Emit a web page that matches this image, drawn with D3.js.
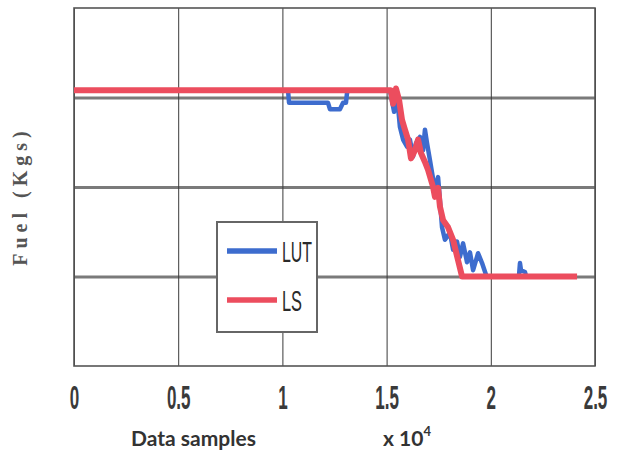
<!DOCTYPE html>
<html>
<head>
<meta charset="utf-8">
<script src="https://cdn.jsdelivr.net/npm/d3@7"></script>
<style>
  body { margin: 0; background: #fff; }
  svg { display: block; }
</style>
</head>
<body>
<svg id="chart" width="618" height="457"></svg>
<script>
// x in units of 1e4 samples, y = fuel
const xTicks = [0, 0.5, 1, 1.5, 2, 2.5];
const yGrid = [1, 2, 3];
const seriesNames = ["LUT", "LS"];

const lutX = [0, 1.027, 1.032, 1.219, 1.228, 1.276, 1.291, 1.305, 1.31, 1.316, 1.516,
  1.536, 1.55, 1.564, 1.579, 1.598, 1.612, 1.627, 1.641, 1.66, 1.675, 1.684, 1.694,
  1.708, 1.718, 1.732, 1.747, 1.756, 1.766, 1.78, 1.804, 1.819, 1.838, 1.852, 1.867,
  1.886, 1.9, 1.915, 1.939, 1.958, 1.977, 1.985, 2.135, 2.14, 2.145, 2.164, 2.17, 2.41];
const lutY = [3.08, 3.08, 2.94, 2.94, 2.87, 2.87, 2.94, 2.94, 3.05, 3.08, 3.08,
  2.84, 3.02, 2.67, 2.53, 2.45, 2.53, 2.34, 2.49, 2.56, 2.41, 2.64, 2.49,
  2.30, 2.16, 1.97, 2.11, 1.85, 1.55, 1.41, 1.49, 1.30, 1.39, 1.22, 1.37,
  1.16, 1.27, 1.07, 1.26, 1.15, 1.02, 1.0, 1.0, 1.15, 1.07, 1.05, 1.0, 1.0];

const lsX = [0, 1.521, 1.531, 1.545, 1.56, 1.574, 1.588, 1.603, 1.617, 1.636, 1.651,
  1.665, 1.684, 1.699, 1.723, 1.732, 1.747, 1.756, 1.771, 1.795, 1.819, 1.843, 1.862, 2.414];
const lsY = [3.08, 3.08, 2.93, 3.1, 2.97, 2.75, 2.64, 2.53, 2.32, 2.41, 2.53,
  2.38, 2.28, 2.19, 2.0, 1.89, 1.99, 1.78, 1.63, 1.55, 1.41, 1.18, 1.0, 1.0];

const colors = { LUT: "#3d6cce", LS: "#ec4d5e" };

const svg = d3.select("#chart");
const mLeft = 74, mRight = 595, mTop = 8, mBottom = 366;
const W = mRight - mLeft, H = mBottom - mTop;

const x = d3.scaleLinear().domain([0, 2.5]).range([mLeft, mRight]);
const y = d3.scaleLinear().domain([0, 4]).range([mBottom, mTop]);

// horizontal grid (thick gray)
svg.append("g")
  .attr("transform", `translate(${mLeft},0)`)
  .call(d3.axisLeft(y).tickValues(yGrid).tickSize(-W).tickFormat(""))
  .call(g => g.select(".domain").remove())
  .call(g => g.selectAll("line").attr("stroke", "#7a7a7a").attr("stroke-width", 3));

// vertical grid + tick labels
const xa = svg.append("g")
  .attr("transform", `translate(0,${mBottom})`)
  .call(d3.axisBottom(x).tickValues(xTicks).tickSize(-H).tickPadding(0)
    .tickFormat(d => String(d)));
xa.select(".domain").remove();
xa.selectAll("line").attr("stroke", "#3a3a3a").attr("stroke-width", 1);
xa.selectAll("text")
  .attr("y", 0).attr("dy", 0)
  .attr("transform", "translate(0,43) scale(0.5,1)")
  .attr("fill", "#3a3a3a")
  .style("font-family", "'Liberation Sans', Arial, sans-serif")
  .style("font-size", "34px")
  .style("font-weight", "bold");

// frame
svg.append("rect")
  .attr("x", mLeft).attr("y", mTop).attr("width", W).attr("height", H)
  .attr("fill", "none").attr("stroke", "#555").attr("stroke-width", 1.6);

const line = d3.line().x(d => x(d[0])).y(d => y(d[1]));

svg.append("path")
  .datum(lutX.map((v, i) => [v, lutY[i]]))
  .attr("d", line)
  .attr("fill", "none").attr("stroke", colors.LUT)
  .attr("stroke-width", 4.5).attr("stroke-linejoin", "round");

svg.append("path")
  .datum(lsX.map((v, i) => [v, lsY[i]]))
  .attr("d", line)
  .attr("fill", "none").attr("stroke", colors.LS)
  .attr("stroke-width", 6).attr("stroke-linejoin", "round");

// legend
const lg = svg.append("g").attr("transform", "translate(217,222)");
lg.append("rect")
  .attr("width", 100).attr("height", 110)
  .attr("fill", "#fff").attr("stroke", "#666").attr("stroke-width", 2);
seriesNames.forEach((name, i) => {
  const yy = 29 + i * 49;
  lg.append("line")
    .attr("x1", 10).attr("x2", 60).attr("y1", yy).attr("y2", yy)
    .attr("stroke", colors[name]).attr("stroke-width", 5.5);
  lg.append("text")
    .attr("x", 65).attr("y", yy + 11)
    .attr("textLength", name.length * 10).attr("lengthAdjust", "spacingAndGlyphs")
    .attr("fill", "#2a2a2a")
    .style("font-family", "'Liberation Sans', Arial, sans-serif")
    .style("font-size", "30px")
    .text(name);
});

// axis titles
svg.append("text")
  .attr("x", 131).attr("y", 446)
  .attr("fill", "#333")
  .style("font-family", "Lato, 'Open Sans', sans-serif")
  .style("font-weight", "bold").style("font-size", "21px")
  .text("Data samples");

const ex = svg.append("text")
  .attr("x", 383).attr("y", 446)
  .attr("fill", "#333")
  .style("font-family", "Lato, 'Open Sans', sans-serif")
  .style("font-weight", "bold").style("font-size", "21px");
ex.append("tspan").text("x 10");
ex.append("tspan").attr("dy", -10).style("font-size", "13px").text("4");

svg.append("text")
  .attr("transform", "translate(27,196) rotate(-90)")
  .attr("text-anchor", "middle")
  .attr("fill", "#555")
  .style("font-family", "'Liberation Serif', 'DejaVu Serif', serif")
  .style("font-weight", "bold").style("font-size", "20px")
  .style("letter-spacing", "5px")
  .text("Fuel (Kgs)");
</script>
</body>
</html>
